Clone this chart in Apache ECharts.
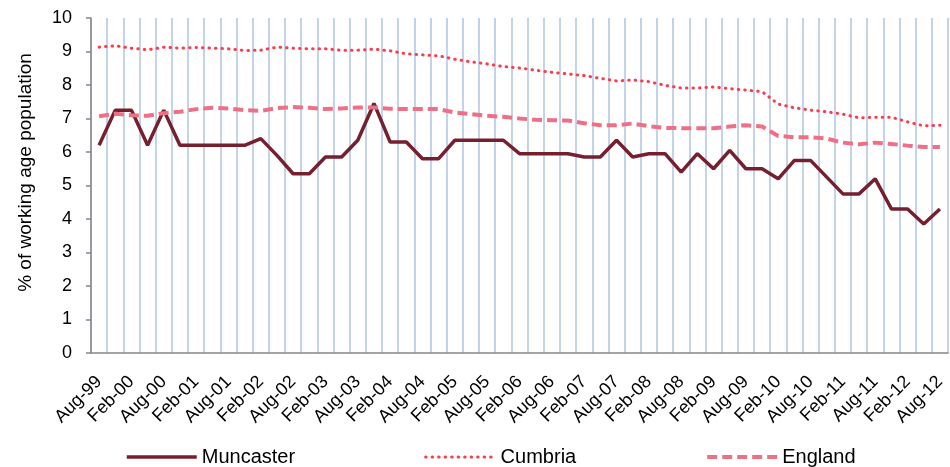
<!DOCTYPE html>
<html>
<head>
<meta charset="utf-8">
<script src="https://cdn.jsdelivr.net/npm/echarts@6/dist/echarts.min.js"></script>
<style>
  html, body { margin: 0; padding: 0; background: #ffffff; }
  #chart { width: 950px; height: 467px; }
</style>
</head>
<body>
<div id="chart"></div>
<script>
// quarterly claimant figures, Aug-99 .. Aug-12
const categories = [
  'Aug-99', 'Nov-99', 'Feb-00', 'May-00', 'Aug-00', 'Nov-00', 'Feb-01', 'May-01',
  'Aug-01', 'Nov-01', 'Feb-02', 'May-02', 'Aug-02', 'Nov-02', 'Feb-03', 'May-03',
  'Aug-03', 'Nov-03', 'Feb-04', 'May-04', 'Aug-04', 'Nov-04', 'Feb-05', 'May-05',
  'Aug-05', 'Nov-05', 'Feb-06', 'May-06', 'Aug-06', 'Nov-06', 'Feb-07', 'May-07',
  'Aug-07', 'Nov-07', 'Feb-08', 'May-08', 'Aug-08', 'Nov-08', 'Feb-09', 'May-09',
  'Aug-09', 'Nov-09', 'Feb-10', 'May-10', 'Aug-10', 'Nov-10', 'Feb-11', 'May-11',
  'Aug-11', 'Nov-11', 'Feb-12', 'May-12', 'Aug-12'
]

const muncaster = [
  6.2, 7.25, 7.25, 6.2, 7.25, 6.2, 6.2, 6.2, 6.2, 6.2,
  6.4, 5.9, 5.35, 5.35, 5.85, 5.85, 6.35, 7.45, 6.3, 6.3,
  5.8, 5.8, 6.35, 6.35, 6.35, 6.35, 5.95, 5.95, 5.95, 5.95,
  5.85, 5.85, 6.35, 5.85, 5.95, 5.95, 5.4, 5.95, 5.5, 6.05,
  5.5, 5.5, 5.2, 5.75, 5.75, 5.25, 4.75, 4.75, 5.2, 4.3,
  4.3, 3.85, 4.3
]

const cumbria = [
  9.13, 9.17, 9.1, 9.05, 9.13, 9.1, 9.12, 9.1, 9.08, 9.03,
  9.04, 9.13, 9.1, 9.08, 9.08, 9.04, 9.04, 9.07, 9.02, 8.93,
  8.9, 8.87, 8.77, 8.69, 8.63, 8.55, 8.51, 8.44, 8.38, 8.33,
  8.28, 8.2, 8.12, 8.15, 8.1, 7.99, 7.91, 7.91, 7.94, 7.89,
  7.85, 7.8, 7.43, 7.32, 7.25, 7.2, 7.13, 7.02, 7.04, 7.04,
  6.9, 6.78, 6.8
]

const england = [
  7.07, 7.14, 7.1, 7.08, 7.16, 7.2, 7.28, 7.32, 7.3, 7.25,
  7.23, 7.31, 7.34, 7.32, 7.28, 7.3, 7.33, 7.33, 7.29, 7.28,
  7.28, 7.28, 7.18, 7.13, 7.08, 7.05, 7.0, 6.96, 6.95, 6.94,
  6.86, 6.8, 6.8, 6.85, 6.77, 6.72, 6.71, 6.71, 6.71, 6.76,
  6.8, 6.76, 6.48, 6.44, 6.44, 6.4, 6.28, 6.23, 6.28, 6.24,
  6.19, 6.15, 6.15
]

const COLORS = {
  muncaster: '#76202f',
  cumbria: '#ff3a4a',
  england: '#ef7084',
  grid: '#c3d4ea',
  axis: '#878787',
  text: '#000000',
}

const FONT = '"Liberation Sans", Arial, sans-serif'

// line looks, shared by the series and their legend entries
const LINES = {
  Muncaster: { color: COLORS.muncaster, width: 3.5, type: 'solid' },
  Cumbria: { color: COLORS.cumbria, width: 3, type: [0.5, 6], cap: 'round' },
  England: { color: COLORS.england, width: 4, type: [10, 5] },
}

const chart = echarts.init(document.getElementById('chart'), null, { renderer: 'canvas' })

chart.setOption({
  animation: false,
  backgroundColor: '#ffffff',
  textStyle: { fontFamily: FONT, color: COLORS.text },
  grid: { left: 91, right: 2, top: 18, bottom: 114, containLabel: false },
  legend: {
    left: 125,
    top: 447,
    padding: 0,
    itemWidth: 70,
    itemHeight: 14,
    itemGap: 129,
    // lines only, no marker dot in the legend
    itemStyle: { opacity: 0 },
    textStyle: { fontFamily: FONT, fontSize: 20, color: COLORS.text },
    data: Object.keys(LINES).map((name) => ({ name, lineStyle: LINES[name] })),
  },
  xAxis: {
    type: 'category',
    data: categories,
    boundaryGap: true,
    axisLine: { lineStyle: { color: COLORS.axis, width: 1.5 } },
    axisTick: { interval: 0, length: 6, lineStyle: { color: COLORS.axis, width: 1.5 } },
    axisLabel: {
      interval: 1,
      rotate: 45,
      margin: 26,
      fontFamily: FONT,
      fontSize: 18,
      color: COLORS.text,
    },
    splitLine: { show: true, interval: 0, lineStyle: { color: COLORS.grid, width: 2 } },
  },
  yAxis: {
    type: 'value',
    min: 0,
    max: 10,
    interval: 1,
    name: '% of working age population',
    nameLocation: 'middle',
    nameGap: 56,
    nameTextStyle: { fontFamily: FONT, fontSize: 19, color: COLORS.text, padding: [0, 0, 0, 26] },
    axisLine: { show: true, lineStyle: { color: COLORS.axis, width: 1.5 } },
    axisTick: { show: true, length: 5, lineStyle: { color: COLORS.axis, width: 1.5 } },
    axisLabel: { margin: 19, fontFamily: FONT, fontSize: 18, color: COLORS.text },
    splitLine: { show: false },
  },
  series: [
    { name: 'Muncaster', data: muncaster },
    { name: 'Cumbria', data: cumbria },
    { name: 'England', data: england },
  ].map((s) => ({
    name: s.name,
    type: 'line',
    data: s.data,
    symbol: 'none',
    color: LINES[s.name].color,
    lineStyle: LINES[s.name],
  })),
})
</script>
</body>
</html>
